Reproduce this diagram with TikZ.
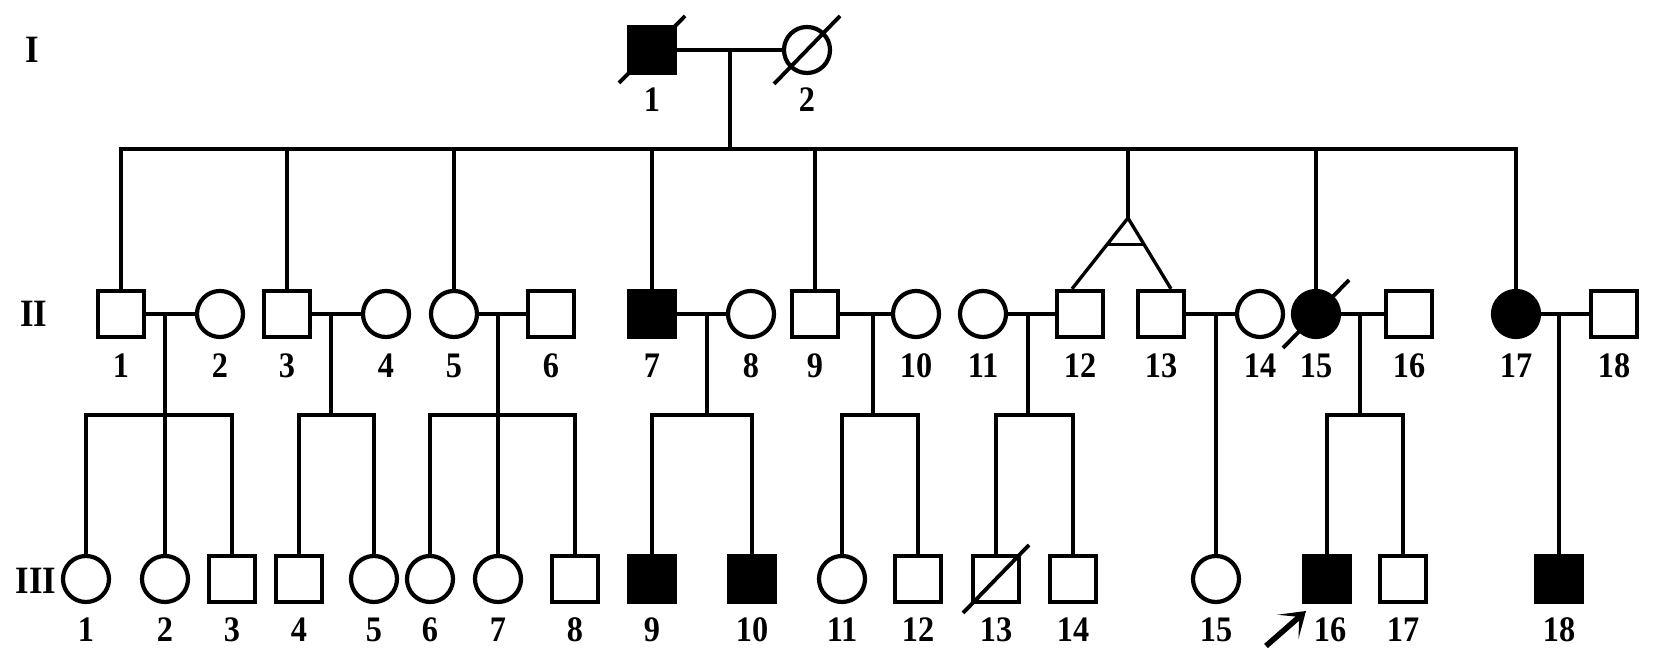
\documentclass[tikz,border=0pt]{standalone}
\usepackage{fontspec}
\setmainfont{Liberation Serif}[FakeStretch=0.9]
\usepackage{tikz}
\usetikzlibrary{arrows.meta,calc}
\tikzset{
  ln/.style    ={draw=black, line width=0.95pt},
  male/.style  ={draw=black, line width=1.2pt, rectangle, minimum size=0.46cm, inner sep=0pt, fill=white},
  female/.style={draw=black, line width=1.2pt, circle, minimum size=0.46cm, inner sep=0pt, fill=white},
  aff/.style   ={fill=black},
  dec/.style   ={draw=black, line width=1.1pt},
  lab/.style   ={font=\fontsize{10.2}{12}\selectfont\bfseries, inner sep=0pt},
  gen/.style   ={font=\fontsize{11}{12}\selectfont\bfseries, inner sep=0pt},
  prob/.style  ={draw=black, line width=1.6pt, -{Stealth[length=0.24cm,width=0.32cm,inset=0.15cm]}},
}

\begin{document}
\begin{tikzpicture}[x=0.01cm,y=-0.01cm]
  \fill[white] (0,0) rectangle (1654,665);
  \useasboundingbox (0,0) rectangle (1654,665);
  % generation labels
  \node[gen] (gI)   at (32,50)  {I};
  \node[gen] (gII)  at (34,314) {II};
  \node[gen] (gIII) at (36,581) {III};
  % generation I
  \node[male,aff] (I1) at (652,50) {};
  \node[female]   (I2) at (807,50) {};
  \draw[dec] ([shift={(-33,33)}]I1.center) -- ([shift={(33,-34)}]I1.center);
  \draw[dec] ([shift={(-33,34)}]I2.center) -- ([shift={(33,-34)}]I2.center);
  \node[lab] (nI1) at (652,100) {1};
  \node[lab] (nI2) at (807,100) {2};
  \draw[ln] (I1.east) -- (I2.west);
  \coordinate (mI) at (730,50);
  \coordinate (sI) at (730,149);
  \draw[ln] (mI) -- (sI);
  % generation II
  \node[male]       (II1)  at (121,314)  {};
  \node[female]     (II2)  at (220,314)  {};
  \node[male]       (II3)  at (287,314)  {};
  \node[female]     (II4)  at (386,314)  {};
  \node[female]     (II5)  at (454,314)  {};
  \node[male]       (II6)  at (551,314)  {};
  \node[male,aff]   (II7)  at (652,314)  {};
  \node[female]     (II8)  at (751,314)  {};
  \node[male]       (II9)  at (815,314)  {};
  \node[female]     (II10) at (916,314)  {};
  \node[female]     (II11) at (983,314)  {};
  \node[male]       (II12) at (1080,314) {};
  \node[male]       (II13) at (1161,314) {};
  \node[female]     (II14) at (1260,314) {};
  \node[female,aff] (II15) at (1316,314) {};
  \node[male]       (II16) at (1409,314) {};
  \node[female,aff] (II17) at (1516,314) {};
  \node[male]       (II18) at (1614,314) {};
  \draw[dec] ([shift={(-33,34)}]II15.center) -- ([shift={(33,-34)}]II15.center);
  \node[lab] (nII1)  at (121,366)  {1};
  \node[lab] (nII2)  at (220,366)  {2};
  \node[lab] (nII3)  at (287,366)  {3};
  \node[lab] (nII4)  at (386,366)  {4};
  \node[lab] (nII5)  at (454,366)  {5};
  \node[lab] (nII6)  at (551,366)  {6};
  \node[lab] (nII7)  at (652,366)  {7};
  \node[lab] (nII8)  at (751,366)  {8};
  \node[lab] (nII9)  at (815,366)  {9};
  \node[lab] (nII10) at (916,366)  {10};
  \node[lab] (nII11) at (983,366)  {11};
  \node[lab] (nII12) at (1080,366) {12};
  \node[lab] (nII13) at (1161,366) {13};
  \node[lab] (nII14) at (1260,366) {14};
  \node[lab] (nII15) at (1316,366) {15};
  \node[lab] (nII16) at (1409,366) {16};
  \node[lab] (nII17) at (1516,366) {17};
  \node[lab] (nII18) at (1614,366) {18};
  % sibship of generation II
  \draw[ln] (II1.north) |- (sI -| II17) -- (II17.north);
  \draw[ln] (II3.north) -- (II3 |- sI);
  \draw[ln] (II5.north) -- (II5 |- sI);
  \draw[ln] (II7.north) -- (II7 |- sI);
  \draw[ln] (II9.north) -- (II9 |- sI);
  \draw[ln] (II15.north) -- (II15 |- sI);
  % twins
  \coordinate (tw) at (1128,218);
  \coordinate (twl) at ([shift={(-8,0)}]II12.north);
  \coordinate (twr) at ([shift={(10,0)}]II13.north);
  \draw[ln] (tw |- sI) -- (tw);
  \draw[ln] (twl) -- (tw) -- (twr);
  \draw[ln] ($(tw)!0.37!(twl)$) -- ($(tw)!0.37!(twr)$);
  % couples
  \draw[ln] (II1.east) -- (II2.west);
  \draw[ln] (II3.east) -- (II4.west);
  \draw[ln] (II5.east) -- (II6.west);
  \draw[ln] (II7.east) -- (II8.west);
  \draw[ln] (II9.east) -- (II10.west);
  \draw[ln] (II11.east) -- (II12.west);
  \draw[ln] (II13.east) -- (II14.west);
  \draw[ln] (II15.east) -- (II16.west);
  \draw[ln] (II17.east) -- (II18.west);
  \coordinate (m12)   at (165,314);
  \coordinate (m34)   at (331,314);
  \coordinate (m56)   at (498,314);
  \coordinate (m78)   at (707,314);
  \coordinate (m910)  at (873,314);
  \coordinate (m1112) at (1028,314);
  \coordinate (m1314) at (1216,314);
  \coordinate (m1516) at (1360,314);
  \coordinate (m1718) at (1559,314);
  \coordinate (sII) at (0,415);
  % generation III
  \node[female]   (III1)  at (86,579)   {};
  \node[female]   (III2)  at (165,579)  {};
  \node[male]     (III3)  at (232,579)  {};
  \node[male]     (III4)  at (299,579)  {};
  \node[female]   (III5)  at (374,579)  {};
  \node[female]   (III6)  at (430,579)  {};
  \node[female]   (III7)  at (498,579)  {};
  \node[male]     (III8)  at (575,579)  {};
  \node[male,aff] (III9)  at (652,579)  {};
  \node[male,aff] (III10) at (752,579)  {};
  \node[female]   (III11) at (842,579)  {};
  \node[male]     (III12) at (918,579)  {};
  \node[male]     (III13) at (996,579)  {};
  \node[male]     (III14) at (1073,579) {};
  \node[female]   (III15) at (1216,579) {};
  \node[male,aff] (III16) at (1327,579) {};
  \node[male]     (III17) at (1403,579) {};
  \node[male,aff] (III18) at (1559,579) {};
  \draw[dec] ([shift={(-33,34)}]III13.center) -- ([shift={(33,-34)}]III13.center);
  \node[lab] (nIII1)  at (86,630)   {1};
  \node[lab] (nIII2)  at (165,630)  {2};
  \node[lab] (nIII3)  at (232,630)  {3};
  \node[lab] (nIII4)  at (299,630)  {4};
  \node[lab] (nIII5)  at (374,630)  {5};
  \node[lab] (nIII6)  at (430,630)  {6};
  \node[lab] (nIII7)  at (498,630)  {7};
  \node[lab] (nIII8)  at (575,630)  {8};
  \node[lab] (nIII9)  at (652,630)  {9};
  \node[lab] (nIII10) at (752,630)  {10};
  \node[lab] (nIII11) at (842,630)  {11};
  \node[lab] (nIII12) at (918,630)  {12};
  \node[lab] (nIII13) at (996,630)  {13};
  \node[lab] (nIII14) at (1073,630) {14};
  \node[lab] (nIII15) at (1216,630) {15};
  \node[lab] (nIII16) at (1330,630) {16};
  \node[lab] (nIII17) at (1403,630) {17};
  \node[lab] (nIII18) at (1559,630) {18};
  % descent lines
  \draw[ln] (m12) -- (III2.north);
  \draw[ln] (III1.north) |- (sII -| III3) -- (III3.north);
  \draw[ln] (m34) -- (m34 |- sII);
  \draw[ln] (III4.north) |- (sII -| III5) -- (III5.north);
  \draw[ln] (m56) -- (III7.north);
  \draw[ln] (III6.north) |- (sII -| III8) -- (III8.north);
  \draw[ln] (m78) -- (m78 |- sII);
  \draw[ln] (III9.north) |- (sII -| III10) -- (III10.north);
  \draw[ln] (m910) -- (m910 |- sII);
  \draw[ln] (III11.north) |- (sII -| III12) -- (III12.north);
  \draw[ln] (m1112) -- (m1112 |- sII);
  \draw[ln] (III13.north) |- (sII -| III14) -- (III14.north);
  \draw[ln] (m1314) -- (III15.north);
  \draw[ln] (m1516) -- (m1516 |- sII);
  \draw[ln] (III16.north) |- (sII -| III17) -- (III17.north);
  \draw[ln] (m1718) -- (III18.north);
  % proband
  \coordinate (pa) at (1266,646);
  \draw[prob] (pa) -- ([shift={(-21,32)}]III16.center);
\end{tikzpicture}
\end{document}
